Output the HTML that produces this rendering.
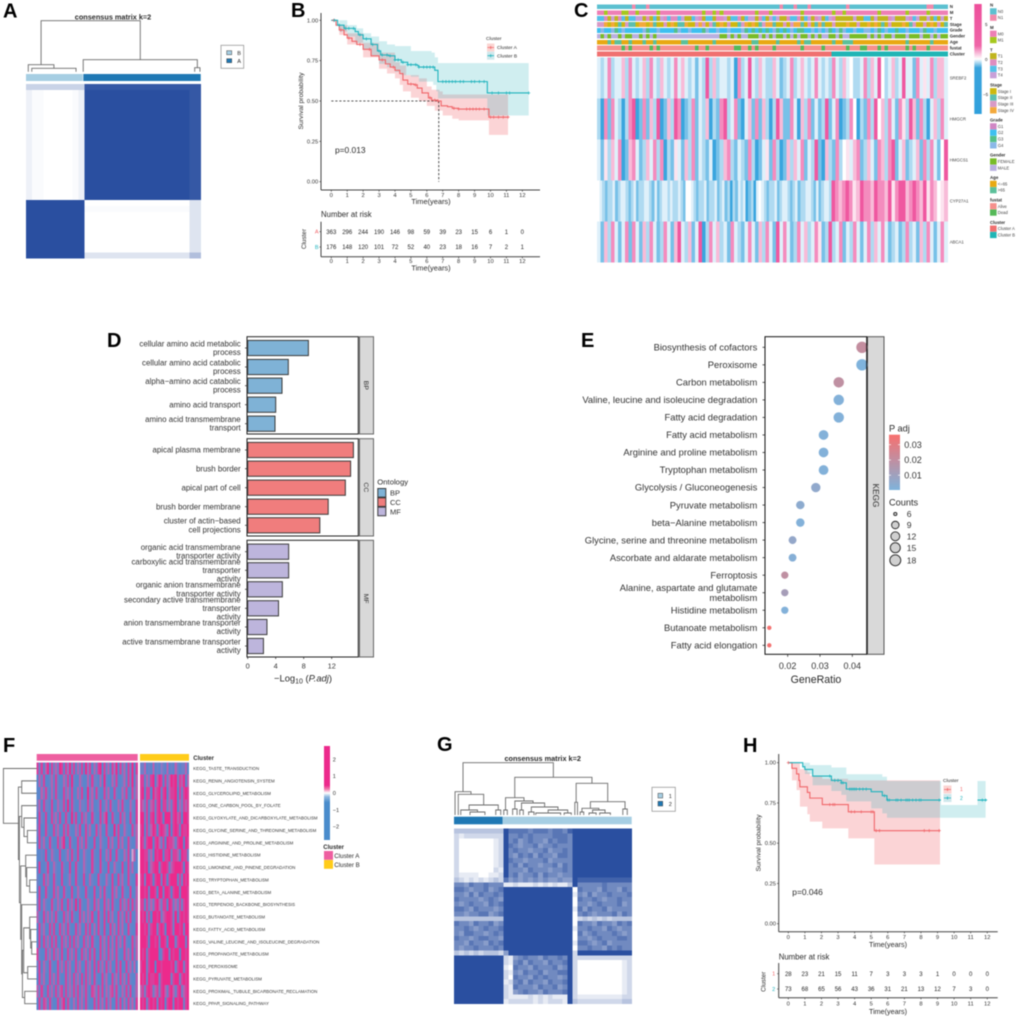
<!DOCTYPE html>
<html lang="en"><head><meta charset="utf-8"><title>Multi-panel figure</title>
<style>
html,body{margin:0;padding:0;background:#fff}
svg{display:block;filter:blur(.4px)}
text{font-family:"Liberation Sans",sans-serif;fill:#2a2a2a}
</style></head><body>
<svg id="fig" xmlns="http://www.w3.org/2000/svg" width="1020" height="1019" viewBox="0 0 1020 1019">
<defs>
<linearGradient id="gradC" x1="0" y1="0" x2="0" y2="1"><stop offset="0" stop-color="#ee4f9b"/><stop offset=".38" stop-color="#ef65a8"/><stop offset=".5" stop-color="#fff"/><stop offset=".58" stop-color="#39a3dc"/><stop offset="1" stop-color="#30a0dc"/></linearGradient>
<linearGradient id="gradE" x1="0" y1="0" x2="0" y2="1"><stop offset="0" stop-color="#f8706e"/><stop offset="1" stop-color="#7fb3dc"/></linearGradient>
<linearGradient id="gradF" x1="0" y1="0" x2="0" y2="1"><stop offset="0" stop-color="#ec2a8c"/><stop offset=".42" stop-color="#ec2a8c"/><stop offset=".46" stop-color="#f080b0"/><stop offset=".5" stop-color="#fff"/><stop offset=".54" stop-color="#8fb8e0"/><stop offset=".6" stop-color="#4a8ccc"/><stop offset="1" stop-color="#4a8ccc"/></linearGradient>
</defs>
<g font-weight="bold" font-size="20">
<text x="3" y="17.5" style="fill:#000">A</text>
<text x="291" y="17" style="fill:#000">B</text>
<text x="574" y="17" style="fill:#000">C</text>
<text x="107" y="347" style="fill:#000">D</text>
<text x="581" y="347" style="fill:#000">E</text>
<text x="3" y="752" style="fill:#000">F</text>
<text x="437" y="751" style="fill:#000">G</text>
<text x="743" y="752" style="fill:#000">H</text>
</g>
<g id="panelA">
<text x="113" y="19.5" font-size="7.3" font-weight="bold" text-anchor="middle">consensus matrix k=2</text>
<rect x="26" y="74" width="56.7" height="7" fill="#a6cee3"/>
<rect x="83.3" y="74" width="117.4" height="7" fill="#1f78b4"/>
<rect x="221" y="45.3" width="22.7" height="23" fill="#fff" stroke="#999" stroke-width=".8"/>
<rect x="226.7" y="50.7" width="5" height="4" fill="#a6cee3" stroke="#444" stroke-width=".5"/>
<rect x="226.7" y="58.7" width="5" height="4" fill="#1f78b4" stroke="#444" stroke-width=".5"/>
<text x="237.3" y="55" font-size="5.6">B</text>
<text x="237.3" y="63" font-size="5.6">A</text>
</g>
<g id="panelB">
<text x="335" y="153" font-size="8.4">p=0.013</text>
<text x="321" y="217" font-size="7.8">Number at risk</text>
<text x="431" y="204" font-size="7.4" text-anchor="middle">Time(years)</text>
<text x="431" y="270.5" font-size="7.4" text-anchor="middle">Time(years)</text>
<text x="303" y="101" font-size="6.8" text-anchor="middle" transform="rotate(-90 303 101)">Survival probability</text>
<text x="306" y="239" font-size="6.4" text-anchor="middle" transform="rotate(-90 306 239)">Cluster</text>
</g>
<g id="panelC">
<rect x="974.3" y="4" width="7.4" height="110" fill="url(#gradC)"/>
<text x="985" y="26" font-size="4.5">5</text>
<text x="985" y="61" font-size="4.5">0</text>
<text x="983" y="96" font-size="4.5">−5</text>
</g>
<g id="panelD">
<text x="303" y="681.5" font-size="9.4" text-anchor="middle">−Log<tspan font-size="7" dy="2">10</tspan><tspan dy="-2"> (</tspan><tspan font-style="italic">P.adj</tspan>)</text>
<text x="377.3" y="484.5" font-size="7.7">Ontology</text>
</g>
<g id="panelE">
<text x="816" y="683" font-size="10.6" text-anchor="middle">GeneRatio</text>
<text x="889" y="431.5" font-size="9.2">P adj</text>
<text x="889" y="505.5" font-size="9.2">Counts</text>
<rect x="889" y="434.7" width="11" height="55.3" fill="url(#gradE)"/>
</g>
<g id="panelF">
<text x="193.3" y="760" font-size="6" font-weight="bold">Cluster</text>
<rect x="36.7" y="754" width="101" height="6.7" fill="#ee5fa0"/>
<rect x="140" y="754" width="49" height="6.7" fill="#ffcc1a"/>
<rect x="324" y="746" width="6" height="94" fill="url(#gradF)"/>
<text x="323.3" y="849" font-size="6" font-weight="bold">Cluster</text>
<rect x="324" y="851" width="9" height="8.8" fill="#ee5fa0"/>
<rect x="324" y="860" width="9" height="8.8" fill="#ffcc1a"/>
<text x="334.3" y="858" font-size="6.2">Cluster A</text>
<text x="334.3" y="867" font-size="6.2">Cluster B</text>
</g>
<g id="panelG">
<text x="542.7" y="761" font-size="7.3" font-weight="bold" text-anchor="middle">consensus matrix k=2</text>
<rect x="454" y="816.7" width="48.7" height="7.6" fill="#1f78b4"/>
<rect x="502.7" y="816.7" width="129" height="7.6" fill="#a6cee3"/>
<rect x="652" y="787.3" width="23.3" height="24" fill="#fff" stroke="#999" stroke-width=".8"/>
<rect x="658" y="793.3" width="4.7" height="4.7" fill="#a6cee3" stroke="#444" stroke-width=".5"/>
<rect x="658" y="801.3" width="4.7" height="4.7" fill="#1f78b4" stroke="#444" stroke-width=".5"/>
<text x="668.7" y="798" font-size="5.6">1</text>
<text x="668.7" y="806.2" font-size="5.6">2</text>
</g>
<g id="panelH">
<text x="792.3" y="895" font-size="8.4">p=0.046</text>
<text x="778.7" y="959.5" font-size="7.8">Number at risk</text>
<text x="888" y="947" font-size="7.2" text-anchor="middle">Time(years)</text>
<text x="888" y="1014" font-size="7.2" text-anchor="middle">Time(years)</text>
<text x="760.5" y="843" font-size="6.8" text-anchor="middle" transform="rotate(-90 760.5 843)">Survival probability</text>
<text x="765.5" y="981.7" font-size="6.4" text-anchor="middle" transform="rotate(-90 765.5 981.7)">Cluster</text>
</g>
</svg>
<script>
/* ---------- panel A data ---------- */
const aMatrix=[
"444444444488888888888888888888","211000001299999999999999999988","211000001299999999999999999988","211000001299999999999999999988","211000001299999999999999999988",
"211000001299999999999999999988","211000001299999999999999999988","211000001299999999999999999988","211000001299999999999999999988","211000001299999999999999999988",
"211000001299999999999999999988","211000001299999999999999999988","211000001299999999999999999988","211000001299999999999999999988","211000001299999999999999999988",
"211000001299999999999999999988","211000001299999999999999999988","211000001299999999999999999988","211000001299999999999999999988","211000001299999999999999999988",
"999999999900000000000000000033","999999999911111111111111111133","999999999900000000000000000033","999999999900000000000000000033","999999999900000000000000000033",
"999999999900000000000000000033","999999999900000000000000000033","999999999900000000000000000033","999999999900000000000000000033","999999999933333333333333333355"];
const aTree=[51,[7,1.3,[3.4,3.3,28.6]],[12,32.7,[4,96.4,99.4]]];
/* ---------- panel B data ---------- */
const timeTicks=[0,1,2,3,4,5,6,7,8,9,10,11,12];
const survTicks=[0,0.25,0.5,0.75,1];
const survTickLabels=["0.00","0.25","0.50","0.75","1.00"];
const bTimesA=[0,.3,.5,.8,1,1.3,1.6,2,2.5,3,3.4,3.7,4,4.3,4.5,4.8,5.2,5.4,5.7,6.1,6.3,6.7,6.9,7.3,7.6,8,9.7,9.9,11.1];
const bSurvA=[1,.97,.94,.91,.89,.87,.85,.82,.78,.755,.73,.71,.69,.67,.63,.605,.6,.58,.55,.52,.505,.5,.47,.465,.455,.45,.45,.4,.4];
const bTimesB=[0,.4,.8,1.5,1.7,2,2.5,2.9,3.1,3.6,4,4.4,4.8,5.4,5.5,6.4,6.5,6.7,9.7,9.8,12.4];
const bSurvB=[1,.97,.95,.93,.91,.885,.85,.81,.785,.78,.755,.74,.725,.72,.71,.71,.69,.62,.62,.55,.55];
const bUpTimesA=[0,.5,1,2,3,4,4.3,4.7,5.5,6,6.3,6.8,7,9.9,11.1];
const bUpA=[1,.97,.92,.86,.8,.74,.72,.66,.64,.59,.57,.56,.54,.54,.54];
const bLoTimesA=[0,.5,1,2,3,3.5,4,4.3,4.5,5,5.5,6,6.5,7,7.6,8,9.6,9.9,11.1];
const bLoA=[1,.91,.85,.77,.7,.67,.64,.6,.56,.52,.5,.47,.44,.41,.39,.38,.38,.29,.29];
const bUpTimesB=[0,1,1.5,1.6,2,2.5,3,3.5,4,5,6.3,6.5,6.7,12.4];
const bUpB=[1,.97,.97,.95,.92,.9,.87,.85,.84,.81,.8,.77,.735,.735];
const bLoTimesB=[0,.5,1,1.5,2,2.5,3,3.5,4,4.4,5,5.5,6.4,6.6,6.7,8,9.7,9.8,12.4];
const bLoB=[1,.93,.9,.86,.82,.78,.73,.71,.68,.66,.65,.62,.6,.56,.516,.516,.516,.41,.41];
const bCensorA=[.15,.6,1.1,1.8,2.4,3.2,3.9,5,5.3,6.2,6.5,6.7,7.7,8,8.5,8.7,8.9,9.1,9.3,9.6,10,10.2,10.5,10.8,11.1];
const bCensorB=[.2,.5,.9,1.1,1.4,1.8,2.2,2.6,3,3.2,3.5,3.7,4,4.2,4.5,4.8,5,5.3,5.5,5.8,6,6.2,6.4,7,7.2,7.4,7.6,7.8,8.1,8.3,8.8,9,9.3,9.6,10.1,10.5,11,11.2,12.4];
const bRiskA=[363,296,244,190,146,98,59,39,23,15,6,1,0];
const bRiskB=[176,148,120,101,72,52,40,23,18,16,7,2,1];
const bMedianTime=6.75;
const bMedianSurv=0.5;
/* ---------- panel C data ---------- */
const cAnnotNames=["N","M","T","Stage","Grade","Gender","Age","fustat","Cluster"];
const cAnnotColors=[["#5bc0d0","#f08aab"],["#ee7fb5","#a6c81e"],["#c0b51e","#df8cc0","#55c0e8","#c8a0d8"],["#cdb80f","#5cbfae","#d89ac6","#f3a93c"],["#d086c4","#3ec0f0","#55c08a","#8ab8e8"],["#78bc28","#b9b0e0"],["#e8a912","#5cc09a"],["#f6908c","#55b958"],["#f07070","#20b5b5"]];
const cAnnotRows=[
"0000000000100010000000000000000000000000000000000000100010001000000000010000000000000000000000110000",
"0010000110010000010000000000001001010000000001000100000000100000000100100000000010000000100000100000",
"2210301202233010203121123002310220113022102330120323001221023013023100000300220300013000312300302030",
"2230301021103303100203011300232021030200123030123310020233102013100200030020030301020003012002030201",
"1311321311111321131111231131112311311311132121212132121312211313132132311311331321311211311132113111",
"1010110100110101011111111111111111100101011000101010010101001010110010110000010101001000100010010100",
"0001011001000100100000001100000001000000000011000001000001011000000100111000000000000000100000010000",
"0000000101000001010000000000100100000001100101000010000000100000100000010001100010100000101000100000",
"0|1"];
const cGenes=["SREBF2","HMGCR","HMGCS1","CYP27A1","ABCA1"];
const cExpr=[
"3237233627323627326323736323132826233230723832632263123723632373232732634223726384236238331735372663",
"2071732027801716280162870127132602178237103617162028611730627131281370127402172846273175286172036273",
"3152637016731263727021531627132130126721321720135172016263713281062172453671263176278136123617273148",
"432122312332123122332131233232232144321223122312312021323012034321223123321231223321312332|876787568776877685788678768576456",
"3162731371731627312731683261380273623173213731627318373127362375128237132731372637312312723162731373"];
const cLegendTitles=["N","M","T","Stage","Grade","Gender","Age","fustat","Cluster"];
const cLegendLabels=[["N0","N1"],["M0","M1"],["T1","T2","T3","T4"],["Stage I","Stage II","Stage III","Stage IV"],["G1","G2","G3","G4"],["FEMALE","MALE"],["<=65",">65"],["Alive","Dead"],["Cluster A","Cluster B"]];
/* ---------- panel D data ---------- */
const dFacets=["BP","CC","MF"];
const dFacetColors=["#7fb2d6","#f07d7d","#bdb5dc"];
const dLabels=[
[["cellular amino acid metabolic","process"],["cellular amino acid catabolic","process"],["alpha−amino acid catabolic","process"],["amino acid transport"],["amino acid transmembrane","transport"]],
[["apical plasma membrane"],["brush border"],["apical part of cell"],["brush border membrane"],["cluster of actin−based","cell projections"]],
[["organic acid transmembrane","transporter activity"],["carboxylic acid transmembrane","transporter","activity"],["organic anion transmembrane","transporter activity"],["secondary active transmembrane","transporter","activity"],["anion transmembrane transporter","activity"],["active transmembrane transporter","activity"]]];
const dValues=[[8.67,5.8,4.9,4.0,3.9],[15.1,14.7,13.95,11.5,10.3],[5.85,5.85,4.95,4.4,2.75,2.25]];
const dTicks=[0,4,8,12];
/* ---------- panel E data ---------- */
const ePathways=["Biosynthesis of cofactors","Peroxisome","Carbon metabolism","Valine, leucine and isoleucine degradation","Fatty acid degradation","Fatty acid metabolism","Arginine and proline metabolism","Tryptophan metabolism","Glycolysis / Gluconeogenesis","Pyruvate metabolism","beta−Alanine metabolism","Glycine, serine and threonine metabolism","Ascorbate and aldarate metabolism","Ferroptosis","Alanine, aspartate and glutamate|metabolism","Histidine metabolism","Butanoate metabolism","Fatty acid elongation"];
const eGeneRatio=[.043,.043,.0358,.0358,.0358,.0311,.0311,.0311,.0287,.0239,.0239,.0215,.0215,.0191,.0191,.0191,.0143,.0143];
const eCounts=[18,18,15,15,15,13,13,13,12,10,10,9,9,8,8,8,6,6];
const ePadj=[.02,.001,.019,.002,.002,.002,.002,.002,.006,.005,.002,.007,.003,.019,.012,.002,.034,.034];
const eTicks=[.02,.03,.04];
const eTickLabels=["0.02","0.03","0.04"];
const ePadjTicks=[.03,.02,.01];
const ePadjLabels=["0.03","0.02","0.01"];
const eCountLegend=[6,9,12,15,18];
/* ---------- panel F data ---------- */
const fPathways=["KEGG_TASTE_TRANSDUCTION","KEGG_RENIN_ANGIOTENSIN_SYSTEM","KEGG_GLYCEROLIPID_METABOLISM","KEGG_ONE_CARBON_POOL_BY_FOLATE","KEGG_GLYOXYLATE_AND_DICARBOXYLATE_METABOLISM","KEGG_GLYCINE_SERINE_AND_THREONINE_METABOLISM","KEGG_ARGININE_AND_PROLINE_METABOLISM","KEGG_HISTIDINE_METABOLISM","KEGG_LIMONENE_AND_PINENE_DEGRADATION","KEGG_TRYPTOPHAN_METABOLISM","KEGG_BETA_ALANINE_METABOLISM","KEGG_TERPENOID_BACKBONE_BIOSYNTHESIS","KEGG_BUTANOATE_METABOLISM","KEGG_FATTY_ACID_METABOLISM","KEGG_VALINE_LEUCINE_AND_ISOLEUCINE_DEGRADATION","KEGG_PROPANOATE_METABOLISM","KEGG_PEROXISOME","KEGG_PYRUVATE_METABOLISM","KEGG_PROXIMAL_TUBULE_BICARBONATE_RECLAMATION","KEGG_PPAR_SIGNALING_PATHWAY"];
const fPalette=["#4a8ccc","#5a86cc","#6f80c8","#8f78c4","#d0a0d0","#b868b4","#b860b0","#d8409c","#ec2a8c"];
const fExpr=[
"72716817262871738271627183716278172617381726172817|226121612132161216212261",
"16271126172116271821162116172216182116271126172816|771627816871726878276816",
"11627216172117261711627118261721172611721162711726|781771867827816778172787",
"26172217116227181721162217261127126172116272116217|762716727817726278162767",
"17217117261711721827117261172117268117211726117217|882717827871888278671887",
"27117211726117272116271172611726117211827116211726|781726871787628178728778",
"17261172117268117211726172117116211726117261172116|872788178627187762788187",
"11217116211711261721711621172117116271172116271461|887726187881778277618772",
"17112711621172117117211621172117211711621171172611|887816788278872678887187",
"21172611721171126117211711621172116217117261172117|782887178828717888272878",
"17117211726117211711621172117116172117261172117116|887828871882887178828887",
"27162117216271172618172116217261172617211726271726|771726278627718726272787",
"62172616172117261721172616271172171726117261727116|878271887826788728178787",
"17261172711726172117261172716172171172617261172117|887827882787188728878288",
"17172617271172617172611726172117261716172617211726|888718878288718882788828",
"72117261726171172617117261727117261726172117261716|878278888127882878818878",
"27162172117261726117261172617172617261172711726161|788278818878888782788278",
"17261172617211726172617172617211726117261726172116|878287788278888278827878",
"62721726172671726272716272176272716267272162727126|672787267278627862782678",
"17276172117268172161726172117272617261172716172617|878278782878178828788278"];
const fTree=[33.3,0,[18.3,[15,1,2],[17.3,[15,3,[12.7,4,[9.3,5,6]]],[16,[11,7,[10,8,[7,9,10]]],[15,11,[14.3,[13,[7,12,[6,13,[5,14,15]]],[9,16,17]],[12,18,19]]]]]]];
const fBarTicks=[2,1,0,-1,-2];
const fBarLabels=["2","1","0","−1","−2"];
/* ---------- panel G data ---------- */
const gMatrix=[
"333333333397777677767768999999999999",
"212222222296676766667776999999999999",
"200000001296756766576776999999999999",
"200000001297656675667666999999999999",
"200000001296766566756676999999999999",
"200000001296576757665776999999999999",
"200000001297665666756666999999999999",
"200000001296757665667576999999999999",
"200000002196665766656676999999999999",
"211110011296756675766566999999999999",
"321212123275656565655655988888888888",
"665766766611211121212113966666766666",
"776566756799999999999999076665766576",
"665757667699999999999999165756676667",
"766665676599999999999999076676566766",
"656766576799999999999999066567666756",
"776576665699999999999999175766756666",
"665667756799999999999999067656667576",
"333333333399999999999999023232323333",
"766576675699999999999999076657665767",
"667656766799999999999999166766576566",
"657766567699999999999999075676667656",
"766567766599999999999999066567666776",
"665766576799999999999999177656756666",
"656676667699999999999999066766576766",
"323232333259999999999999299999999999",
"999999999921567665766769222222222222",
"999999999921675766576679200000000012",
"999999999910766576667569200000000012",
"999999999921657667566779200000000012",
"999999999920766576766569200000000012",
"999999999912675766576679200000000012",
"999999999921766657667569200000000012",
"999999999921567665766679200000000012",
"999999999921111212121119211111111122",
"999999999912222212122219322222222233"];
const gTree=[52.3,[23.3,0.6,[20.7,2.4,[10,[5,3.8,[3,9,17.4]],[5,23.5,26.3]]]],[37.7,[17.3,[5,28,30],[14,[6,33,35.5],[12,[5,37,39],[8,[3,42,45],[5,[2,46,60],[2,62,66]]]]]],[31.7,[12.7,68,69.5],[13.3,[6.7,[3,71,73],[5,[2,76,80],[2,82,88]]],[6,95,97.5]]]]];
/* ---------- panel H data ---------- */
const hTimes1=[0,.22,.5,.64,.7,1.15,1.3,2.05,3.62,5.19,9.15];
const hSurv1=[1,.965,.93,.89,.85,.815,.78,.74,.695,.578,.578];
const hTimes2=[0,.8,.87,1.0,1.47,2.6,3.2,3.5,5,5.67,5.95,11.95];
const hSurv2=[1,1,.975,.958,.917,.89,.875,.836,.82,.795,.768,.765];
const hUpTimes1=[0,.5,.7,1.15,1.3,2.05,3.6,9.15];
const hUp1=[1,1,.96,.94,.92,.9,.89,.89];
const hLoTimes1=[0,.22,.5,.7,1.15,1.3,2.05,3.62,5.19,9.15];
const hLo1=[1,.89,.83,.727,.68,.634,.592,.53,.368,.368];
const hUpTimes2=[0,.8,1.3,2.6,3.5,5.67,5.95,11.9];
const hUp2=[1,1,.985,.97,.928,.913,.886,.886];
const hLoTimes2=[0,.87,1.0,1.47,2.6,3.2,3.5,5,5.67,5.95,11.9];
const hLo2=[1,.965,.93,.86,.824,.8,.76,.716,.685,.658,.658];
const hCensor1=[0,2.5,2.7,2.8,3.8,4,4.4,5,5.1,5.3,5.5,8.2,8.5,9.1];
const hCensor2=[2.5,2.8,3,3.2,3.3,3.7,3.8,3.9,4,4.1,4.3,4.5,4.7,5.8,6,6.1,6.5,6.6,6.8,7.1,7.2,7.3,7.5,7.7,7.9,8,9.1,10.9,11.7,11.9];
const hRisk1=[28,23,21,15,11,7,3,3,3,1,0,0,0];
const hRisk2=[73,68,65,56,43,36,31,21,13,12,7,3,0];

const NS="http://www.w3.org/2000/svg";
const RED="#f0666a",TEAL="#1fb3bd";
function mk(p,tag,attrs,txt){const e=document.createElementNS(NS,tag);for(const k in attrs)e.setAttribute(k,attrs[k]);if(txt!=null)e.textContent=txt;p.appendChild(e);return e;}
function addText(p,x,y,str,size,anchor,name,fill){
  const t=mk(p,'text',{x:x,y:y,'font-size':size,'text-anchor':anchor},str);
  if(fill)t.style.fill=fill;
  
  
  return t;
}
function addLine(p,x1,y1,x2,y2,stroke,w,name,dash){
  const l=mk(p,'line',{x1:x1,y1:y1,x2:x2,y2:y2,stroke:stroke,'stroke-width':w});
  if(dash)l.setAttribute('stroke-dasharray',dash);
  
  
  return l;
}
function addRect(p,x,y,w,h,fill,name,stroke,sw){
  const r=mk(p,'rect',{x:x,y:y,width:w,height:h,fill:fill});
  if(stroke){r.setAttribute('stroke',stroke);r.setAttribute('stroke-width',sw);}
  
  
  return r;
}
function addPath(p,d,fill,stroke,w,name,op){
  const e=mk(p,'path',{d:d,fill:fill,stroke:stroke,'stroke-width':w});
  if(op!=null)e.setAttribute('fill-opacity',op);
  
  
  return e;
}
function hexToRgb(h){return [parseInt(h.slice(1,3),16),parseInt(h.slice(3,5),16),parseInt(h.slice(5,7),16)];}
function lerp(a,b,t){const A=hexToRgb(a),B=hexToRgb(b);return 'rgb('+A.map((v,i)=>Math.round(v+(B[i]-v)*t)).join(',')+')';}
function heatCell(p,x,y,w,h,fill,name){
  const c=mk(p,'rect',{x:x,y:y,width:w+.05,height:h+.05,fill:fill,'shape-rendering':'crispEdges'});
  
  
}
function drawMatrix(p,rows,x0,y0,W,H,color,name){
  const rh=H/rows.length;
  rows.forEach((r,i)=>{const cw=W/r.length;for(let j=0;j<r.length;j++)heatCell(p,x0+j*cw,y0+i*rh,cw,rh,color(+r[j],r,i),name);});
}
/* draw a row that may be split at the cluster boundary by a "|" */
function drawSplitRow(p,row,X0,W,y,h,color,name){
  const parts=row.split('|');
  const widths=parts.length>1?[W*.669,W*.331]:[W];
  let X=X0;
  parts.forEach((pt,k)=>{
    const cw=widths[k]/pt.length;
    for(let j=0;j<pt.length;j++)heatCell(p,X+j*cw,y,cw,h,color(+pt[j]),name);
    X+=widths[k];
  });
}
function treeSeg(node,pos,hgt,segs){
  if(!Array.isArray(node))return {p:pos(node),h:hgt(0)};
  const a=treeSeg(node[1],pos,hgt,segs),b=treeSeg(node[2],pos,hgt,segs),h=hgt(node[0]);
  segs.push([a.p,a.h,h,b.p,b.h]);
  return {p:(a.p+b.p)/2,h:h};
}
function drawDendro(p,tree,pos,hgt,horizontal,name){
  const segs=[];treeSeg(tree,pos,hgt,segs);
  const d=segs.map(s=>horizontal?`M${s[1]} ${s[0]}H${s[2]}V${s[3]}H${s[4]}`:`M${s[0]} ${s[1]}V${s[2]}H${s[3]}V${s[4]}`).join('');
  addPath(p,d,'none','#6a6a6a',.9,name);
}
function stepPath(ts,vs,x,y){let d=`M${x(ts[0])} ${y(vs[0])}`;for(let i=1;i<ts.length;i++)d+=`H${x(ts[i])}V${y(vs[i])}`;return d;}
function bandPath(ut,uv,lt,lv,x,y){
  let d=stepPath(ut,uv,x,y);
  const n=lt.length-1;
  d+=`L${x(lt[n])} ${y(lv[n])}`;
  for(let i=n;i>0;i--)d+=`V${y(lv[i-1])}H${x(lt[i-1])}`;
  return d+'Z';
}
function survAt(ts,vs,t){let s=vs[0];for(let i=0;i<ts.length;i++)if(ts[i]<=t)s=vs[i];return s;}
function drawCensors(p,list,ts,vs,x,y,color,name){
  list.forEach(t=>{const X=x(t),Y=y(survAt(ts,vs,t));addPath(p,`M${X-1.6} ${Y}H${X+1.6}M${X} ${Y-1.6}V${Y+1.6}`,'none',color,.7,name);});
}
function drawAxes(p,x,y,cfg,tag){
  addLine(p,cfg.left,cfg.bottom,cfg.right,cfg.bottom,'#444',1,'x-axis-'+tag);
  addLine(p,cfg.left,cfg.top,cfg.left,cfg.bottom,'#444',1,'y-axis-'+tag);
  timeTicks.forEach(t=>{
    addLine(p,x(t),cfg.bottom,x(t),cfg.bottom+1.7,'#444',.7,'x-tick-'+tag);
    addText(p,x(t),cfg.tickY,String(t),5.8,'middle','x-tick-label-'+tag,'#333');
  });
}
function drawRisk(p,x,riskTop,riskBottom,left,right,tickY,rows,rowY,names,colors,nameX,tag){
  addLine(p,left,riskBottom,right,riskBottom,'#444',1,'risk-x-axis-'+tag);
  addLine(p,left,riskTop,left,riskBottom,'#444',1,'risk-y-axis-'+tag);
  timeTicks.forEach(t=>{
    addLine(p,x(t),riskBottom,x(t),riskBottom+1.7,'#444',.7,'risk-x-tick-'+tag);
    addText(p,x(t),tickY,String(t),5.8,'middle','risk-x-tick-label-'+tag,'#333');
  });
  rows.forEach((r,i)=>{
    addText(p,nameX,rowY[i]+2,names[i],5.6,'middle','risk-row-label-'+tag,colors[i]);
    addLine(p,left-1.5,rowY[i],left,rowY[i],'#444',.7,'risk-y-tick-'+tag);
    r.forEach((v,k)=>addText(p,x(timeTicks[k]),rowY[i]+2.2,String(v),6,'middle','risk-count-'+tag,'#222'));
  });
}
/* ---------- A ---------- */
(function(){
  const g=document.getElementById('panelA');
  const white='#ffffff',dark='#2a4fa0';
  const tone=d=>d>=7?1-(9-d)*.05:Math.pow(d/9,1.7);
  drawDendro(g,aTree,v=>26+v*1.75,h=>71.7-h,false,'dendrogram-a');
  drawMatrix(g,aMatrix,26,84,175,174.3,d=>lerp(white,dark,tone(d)),'consensus-cell-a');
})();
/* ---------- B ---------- */
(function(){
  const g=document.getElementById('panelB');
  const x=t=>331.3+15.92*t,y=s=>181.7-161.4*s;
  addPath(g,bandPath(bUpTimesA,bUpA,bLoTimesA,bLoA,x,y),RED,'none',0,'ci-band-cluster-a',.28);
  addPath(g,bandPath(bUpTimesB,bUpB,bLoTimesB,bLoB,x,y),'#2bb0bc','none',0,'ci-band-cluster-b',.22);
  addLine(g,x(0),y(bMedianSurv),x(bMedianTime),y(bMedianSurv),'#222',.8,'median-line-horizontal','2.2 1.8');
  addLine(g,x(bMedianTime),y(bMedianSurv),x(bMedianTime),y(0),'#222',.8,'median-line-vertical','2.2 1.8');
  addPath(g,stepPath(bTimesA,bSurvA,x,y),'none',RED,1.1,'curve-cluster-a');
  addPath(g,stepPath(bTimesB,bSurvB,x,y),'none',TEAL,1.1,'curve-cluster-b');
  drawCensors(g,bCensorA,bTimesA,bSurvA,x,y,RED,'censor-cluster-a');
  drawCensors(g,bCensorB,bTimesB,bSurvB,x,y,TEAL,'censor-cluster-b');
  drawAxes(g,x,y,{left:321,right:540,top:13,bottom:190,tickY:197},'b');
  survTicks.forEach((s,i)=>{
    addLine(g,319.3,y(s),321,y(s),'#444',.7,'y-tick-b');
    addText(g,318.2,y(s)+2,survTickLabels[i],5.8,'end','y-tick-label-b','#333');
  });
  drawRisk(g,x,221.7,256.7,321,540,263.2,[bRiskA,bRiskB],[231.7,247],['A','B'],[RED,TEAL],316.7,'b');
  addText(g,486,40,'Cluster',4.9,'start','legend-title-b');
  addRect(g,487,43.5,7.4,8,'#fbd5d2','legend-key-cluster-a');
  addRect(g,487,51.7,7.4,8,'#cfe8ec','legend-key-cluster-b');
  addPath(g,'M487.5 47.5H494M490.7 46V49',"none",RED,.8,'legend-mark-cluster-a');
  addPath(g,'M487.5 55.7H494M490.7 54.2V57.2',"none",TEAL,.8,'legend-mark-cluster-b');
  addText(g,497,49,'Cluster A',4.9,'start','legend-label-cluster-a');
  addText(g,497,57.5,'Cluster B',4.9,'start','legend-label-cluster-b');
})();
/* ---------- C ---------- */
(function(){
  const g=document.getElementById('panelC');
  const X0=597,W=350.7;
  cAnnotRows.forEach((r,i)=>{
    const y=4.4+i*5.9;
    drawSplitRow(g,r,X0,W,y,4.7,d=>cAnnotColors[i][d],'annotation-cell-'+cAnnotNames[i].toLowerCase());
    const t=addText(g,949.7,y+3.7,cAnnotNames[i],4.4,'start','annotation-label-'+cAnnotNames[i].toLowerCase());
    t.setAttribute('font-weight','bold');
  });
  const pink='#ee4f9b',blue='#30a0dc',white='#ffffff';
  const rh=40.92;
  const col=d=>{const t=Math.pow(Math.abs(d-4)/4,1.3)*.95;return d>=4?lerp(white,pink,t):lerp(white,blue,t);};
  cExpr.forEach((r,i)=>{
    const y=57.7+i*rh;
    drawSplitRow(g,r,X0,W,y,rh,col,'expression-cell-'+cGenes[i].toLowerCase());
    addText(g,949.7,y+rh/2+1.5,cGenes[i],4.3,'start','gene-label-'+cGenes[i].toLowerCase(),'#444');
  });
  let y=5;
  cLegendTitles.forEach((title,i)=>{
    const t=addText(g,990,y+1.5,title,4.4,'start','legend-title-'+title.toLowerCase());
    t.setAttribute('font-weight','bold');
    cLegendLabels[i].forEach((lab,k)=>{
      y+=6.35;
      addRect(g,990,y-3.1,6.6,6.2,cAnnotColors[i][k],'legend-key-'+title.toLowerCase());
      addText(g,997.8,y+1.5,lab,4.2,'start','legend-label-'+title.toLowerCase(),'#444');
    });
    y+=9.7;
  });
})();
/* ---------- D ---------- */
(function(){
  const g=document.getElementById('panelD');
  const x=v=>247.7+7*v;
  const boxes=[[336.7,97.3],[438.7,97.3],[540.3,116.7]];
  const centers=[[348,367,385.7,404.7,423.7],[450,468.7,487.7,506.7,525.3],[551.7,570.3,589.3,608.3,627,646]];
  dFacets.forEach((f,i)=>{
    const b=boxes[i];
    addRect(g,247,b[0],111.3,b[1],'#fff','facet-panel-'+f.toLowerCase(),'#222',1);
    addRect(g,359.5,b[0],14,b[1],'#d9d9d9','facet-strip-'+f.toLowerCase(),'#666',1);
    const s=addText(g,366.5,b[0]+b[1]/2,f,6.8,'middle','facet-label-'+f.toLowerCase(),'#333');
    s.setAttribute('transform',`rotate(90 366.5 ${b[0]+b[1]/2})`);
    s.setAttribute('dy','2.4');
    dValues[i].forEach((v,k)=>{
      const cy=centers[i][k];
      addRect(g,x(0),cy-7.6,x(v)-x(0),15.2,dFacetColors[i],'bar-'+f.toLowerCase()+'-'+k,'#3a3a3a',1);
      addLine(g,245,cy,247,cy,'#333',.8,'y-tick-d');
      const lines=dLabels[i][k],sp=8.6,top=cy-(lines.length-1)*sp/2;
      lines.forEach((ln,m)=>addText(g,240.7,top+m*sp+2.7,ln,7.9,'end','bar-label-d','#333'));
    });
  });
  dTicks.forEach(t=>{
    addLine(g,x(t),657,x(t),659,'#333',.8,'x-tick-d');
    addText(g,x(t),668.5,String(t),7.4,'middle','x-tick-label-d','#333');
  });
  dFacets.forEach((f,i)=>{
    addRect(g,377.8,488.5+i*9.33,8,8.6,dFacetColors[i],'legend-key-'+f.toLowerCase(),'#3a3a3a',1);
    addText(g,390,495.6+i*9.33,f,7.5,'start','legend-label-'+f.toLowerCase(),'#333');
  });
})();
/* ---------- E ---------- */
(function(){
  const g=document.getElementById('panelE');
  const x=v=>787.7+3230*(v-.02),y=i=>347.3+17.53*i;
  const r=c=>2.2+3.5*Math.sqrt((c-6)/12);
  const col=p=>lerp('#7fb3dc','#f8706e',Math.min(1,Math.max(0,(p-.001)/.034)));
  addRect(g,765,336.7,101.7,317.6,'#fff','plot-panel-e');
  addRect(g,867.5,336.7,16.5,317.6,'#d9d9d9','facet-strip-kegg','#555',1);
  const s=addText(g,875.7,495.5,'KEGG',8.2,'middle','facet-label-kegg','#333');
  s.setAttribute('transform','rotate(90 875.7 495.5)');
  s.setAttribute('dy','2.9');
  ePathways.forEach((n,i)=>{
    const c=mk(g,'circle',{cx:x(eGeneRatio[i]),cy:y(i),r:r(eCounts[i]),fill:col(ePadj[i])});
    
    
    addLine(g,762.5,y(i),765,y(i),'#333',.8,'y-tick-e');
    const parts=n.split('|');
    parts.forEach((ln,k)=>addText(g,757.3,y(i)+3.2-(parts.length-1)*5+k*10,ln,9.4,'end','pathway-label-e','#333'));
  });
  addRect(g,765,336.7,101.7,317.6,'none','plot-border-e','#111',1);
  eTicks.forEach((t,i)=>{
    addLine(g,x(t),654.3,x(t),656.8,'#333',.8,'x-tick-e');
    addText(g,x(t),669,eTickLabels[i],9,'middle','x-tick-label-e','#333');
  });
  const by=[444.7,460,475.2];
  ePadjTicks.forEach((t,i)=>{
    addLine(g,889,by[i],891,by[i],'#fff',.7,'colorbar-tick-e');
    addLine(g,898,by[i],900,by[i],'#fff',.7,'colorbar-tick-e');
    addText(g,904.3,by[i]+3.2,ePadjLabels[i],9,'start','colorbar-label-e','#333');
  });
  const ly=[514,525,536.3,547.7,560.3];
  eCountLegend.forEach((c,i)=>{
    const k=mk(g,'circle',{cx:895.3,cy:ly[i],r:c===6?1.6:r(c)-.2,fill:'#d0d0d0',stroke:'#222','stroke-width':.9});
    
    
    addText(g,906.7,ly[i]+3.1,String(c),8.6,'start','legend-size-label','#333');
  });
})();
/* ---------- F ---------- */
(function(){
  const g=document.getElementById('panelF');
  const rh=12.38,y0=762.3;
  fExpr.forEach((r,i)=>{
    const parts=r.split('|'),y=y0+i*rh;
    parts.forEach((pt,k)=>{
      const X=k?140:36.7,W=k?49:101,cw=W/pt.length;
      for(let j=0;j<pt.length;j++)heatCell(g,X+j*cw,y,cw,rh,fPalette[+pt[j]],'pathway-cell');
    });
    addText(g,193.3,y+rh/2+1.5,fPathways[i],4.36,'start','pathway-label-f','#333');
  });
  drawDendro(g,fTree,i=>y0+(i+.5)*rh,h=>36.7-h,true,'dendrogram-f');
  const cy=[759.3,776,793,810,826.7];
  fBarTicks.forEach((t,i)=>addText(g,332.7,cy[i]+2,fBarLabels[i],5.6,'start','colorbar-label-f','#333'));
})();
/* ---------- G ---------- */
(function(){
  const g=document.getElementById('panelG');
  drawDendro(g,gTree,v=>454+v*1.777,h=>815-h,false,'dendrogram-g');
  drawMatrix(g,gMatrix,454,828.7,177.7,175.3,d=>lerp('#ffffff','#2a4fa0',d/9),'consensus-cell-g');
})();
/* ---------- H ---------- */
(function(){
  const g=document.getElementById('panelH');
  const x=t=>788.3+16.58*t,y=s=>923.7-161*s;
  addPath(g,bandPath(hUpTimes1,hUp1,hLoTimes1,hLo1,x,y),RED,'none',0,'ci-band-cluster-1',.28);
  addPath(g,bandPath(hUpTimes2,hUp2,hLoTimes2,hLo2,x,y),'#2bb0bc','none',0,'ci-band-cluster-2',.22);
  addPath(g,stepPath(hTimes1,hSurv1,x,y),'none',RED,1.1,'curve-cluster-1');
  addPath(g,stepPath(hTimes2,hSurv2,x,y),'none',TEAL,1.1,'curve-cluster-2');
  drawCensors(g,hCensor1,hTimes1,hSurv1,x,y,RED,'censor-cluster-1');
  drawCensors(g,hCensor2,hTimes2,hSurv2,x,y,TEAL,'censor-cluster-2');
  drawAxes(g,x,y,{left:778.7,right:997.7,top:754,bottom:931.7,tickY:939},'h');
  survTicks.forEach((s,i)=>{
    addLine(g,777,y(s),778.7,y(s),'#444',.7,'y-tick-h');
    addText(g,776,y(s)+2,survTickLabels[i],5.8,'end','y-tick-label-h','#333');
  });
  drawRisk(g,x,963,997.7,778.7,997.7,1005.5,[hRisk1,hRisk2],[973.7,989],['1','2'],[RED,TEAL],773.7,'h');
  addRect(g,941,776,36.5,29,'#fff','legend-background-h');
  addText(g,943,782,'Cluster',4.9,'start','legend-title-h');
  addRect(g,943.5,785.5,8,8,'#fbd5d2','legend-key-cluster-1');
  addRect(g,943.5,794,8,8,'#cfe8ec','legend-key-cluster-2');
  addPath(g,'M944 789.5H951M947.5 788V791','none',RED,.8,'legend-mark-cluster-1');
  addPath(g,'M944 798H951M947.5 796.5V799.5','none',TEAL,.8,'legend-mark-cluster-2');
  addText(g,960,791,'1',5,'start','legend-label-cluster-1',RED);
  addText(g,960,800,'2',5,'start','legend-label-cluster-2',TEAL);
})();
</script>
</body></html>
